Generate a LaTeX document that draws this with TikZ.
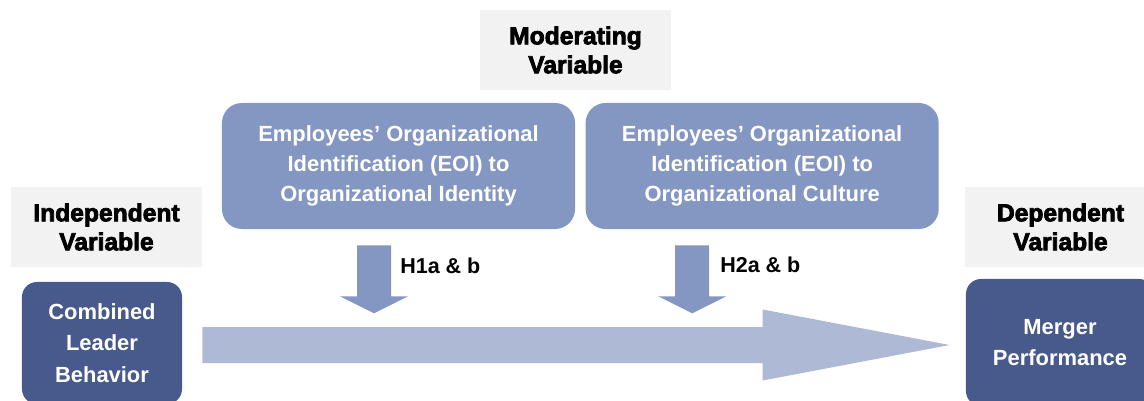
\documentclass[tikz,border=0pt]{standalone}
\usepackage{fontspec}
\setmainfont{Liberation Sans}
\newfontfamily\heavyfont{Liberation Sans}[BoldFeatures={FakeBold=3}]
\usetikzlibrary{positioning,calc}
\usepackage{xcolor}
\definecolor{darkblue}{HTML}{475A8B}
\definecolor{midblue}{HTML}{8497C3}
\definecolor{lightblue}{HTML}{AEB9D6}
\definecolor{labelgray}{HTML}{F2F2F2}

\begin{document}
\begin{tikzpicture}[x=0.025cm,y=-0.025cm,
      main node/.style={rounded corners=0.375cm,fill=darkblue,text=white,align=center,
          font=\bfseries\fontsize{15.6}{22.5}\selectfont,minimum width=4cm,minimum height=3.05cm},
      eoi node/.style={rounded corners=0.5cm,fill=midblue,text=white,align=center,
          font=\bfseries\fontsize{15.6}{21.3}\selectfont,minimum width=8.825cm,minimum height=3.15cm},
      var label/.style={fill=labelgray,align=center,inner sep=0,
          font=\heavyfont\bfseries\fontsize{17.5}{20.6}\selectfont,minimum width=4.775cm,minimum height=2cm},
      hyp label/.style={anchor=west,inner sep=0,font=\bfseries\fontsize{15.3}{18}\selectfont},
      down arrow/.style={fill=midblue},
      big arrow/.style={fill=lightblue}]

    \useasboundingbox (0,0) rectangle (1144,401);
    \clip (0,0) rectangle (1144,401);

    \node[main node] (cmb) at (102,343) {Combined\\Leader\\Behavior};
    \node[main node, minimum width=4.7cm, minimum height=3.175cm] (mgr) at (1060,342.5) {Merger\\Performance};
    \node[var label] (ind) at (106.5,227) {Independent\\Variable};
    \node[var label] (dep) at (1060.5,227) {Dependent\\Variable};
    \node[var label] (mod) at (575.5,50) {Moderating\\Variable};

    \node[eoi node] (eoiA) at (398.5,166) {Employees’ Organizational\\Identification (EOI) to\\Organizational Identity};
    \node[eoi node, right=0.25cm of eoiA] (eoiB) {Employees’ Organizational\\Identification (EOI) to\\Organizational Culture};

    % main effect
    \coordinate (tail) at ($(cmb.east)+(20,2)$);
    \coordinate (tip) at ($(mgr.west)+(-16,2.5)$);
    \fill[big arrow] ($(tail)+(0,-18)$) -- ($(tip)+(-187,-18)$) -- ($(tip)+(-187,-35.5)$) -- (tip)
      -- ($(tip)+(-187,35.5)$) -- ($(tip)+(-187,18)$) -- ($(tail)+(0,18)$) -- cycle;

    % moderation arrows
    \coordinate (hA) at ($(eoiA.south)+(-41.5,16)$);
    \coordinate (hB) at ($(eoiB.south)+(-87,16)$);
    \fill[down arrow] (hA) -- ++(34,0) -- ++(0,51) -- ++(17,0) -- ++(-34,17) -- ++(-34,-17) -- ++(17,0) -- cycle;
    \fill[down arrow] (hB) -- ++(34,0) -- ++(0,51) -- ++(17,0) -- ++(-34,17) -- ++(-34,-17) -- ++(17,0) -- cycle;

    \node[hyp label] (hypA) at (400,266) {H1a \& b};
    \node[hyp label] (hypB) at (720,265) {H2a \& b};

\end{tikzpicture}
\end{document}
